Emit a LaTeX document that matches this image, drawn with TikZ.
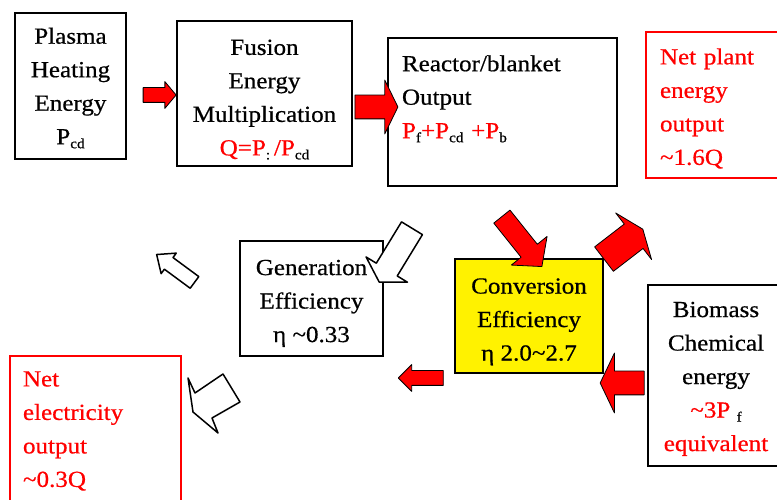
\documentclass[tikz,border=0pt]{standalone}
\usepackage{fontspec}
\setmainfont{Liberation Serif}[FakeStretch=1.09, FakeBold=0.6]
\usetikzlibrary{shapes.arrows}
\newcommand{\lowsub}[1]{\raisebox{-4pt}[0pt][0pt]{\fontsize{14}{14}\selectfont\color{black}#1}}
\newcommand{\raiseline}[1]{\rule{0pt}{#1}}
\tikzset{
    box/.style={draw=black, line width=2.5pt, fill=white, align=center, inner sep=0pt},
    netbox/.style={draw=red, line width=2.5pt, fill=white, align=left, text=red, inner sep=0pt},
    redarrow/.style={single arrow, draw=black, fill=red, line width=0.8pt, inner xsep=0pt, line join=round},
    whitearrow/.style={single arrow, draw=black, fill=white, line width=1.5pt, inner xsep=0pt, line join=round},
    hollow/.style={draw=black, fill=white, line width=1.5pt, line join=round}
}

\begin{document}
\begin{tikzpicture}[x=1pt, y=1pt, font=\fontsize{23}{33.5}\selectfont]
        \useasboundingbox (0,0) rectangle (777,500);
        \clip (0,0) rectangle (777,500);
        % boxes of the top row
        \node [box, minimum width=111, minimum height=146] (plasma) at (70.5,414) {Plasma\\ Heating\\ Energy\\ P\lowsub{cd}};
        \node [box, minimum width=175, minimum height=145] (fusion) at (264.5,406.5) {\raiseline{27pt}Fusion\\ Energy\\ Multiplication\\ \textcolor{red}{Q=P\lowsub{:}\,/P}\lowsub{cd}};
        \node [box, align=left, minimum width=229, minimum height=148, text width=201] (reactor) at (502.5,388) {\raiseline{29pt}Reactor/blanket\\ Output\\ \textcolor{red}{P\lowsub{f}+P\lowsub{cd} +P\lowsub{b}}\\ \strut};
        \node [netbox, minimum width=154, minimum height=146, text width=126] (netplant) at (723,395) {\raiseline{23pt}Net plant\\ energy\\ output\\ \textasciitilde1.6Q};
        % boxes of the lower rows
        \node [box, minimum width=143, minimum height=115] (generation) at (311.5,201.5) {\raiseline{25pt}Generation\\ Efficiency\\ η \textasciitilde0.33};
        \node [box, fill=yellow, minimum width=148, minimum height=114] (conversion) at (529,184) {\raiseline{27pt}Conversion\\ Efficiency\\ η 2.0\textasciitilde2.7};
        \node [box, minimum width=136, minimum height=181] (biomass) at (716,124.5) {\raiseline{22pt}Biomass\\ Chemical\\ energy\\ \textcolor{red}{\textasciitilde3P \lowsub{f}}\\ \textcolor{red}{equivalent}};
        \node [netbox, minimum width=171, minimum height=150, text width=145] (netelec) at (95.5,69) {Net\\ electricity\\ output\\ \textasciitilde0.3Q};

        % block arrows
        \node [redarrow, minimum height=33, inner ysep=7, single arrow head extend=6, single arrow tip angle=100] (heatarrow) at (156.5,405) {};
        \node [redarrow, minimum height=43, inner ysep=11.5, single arrow head extend=15, single arrow tip angle=128] (fusionarrow) at (373.5,393) {};
        \node [redarrow, rotate=-51.3, minimum height=64, inner ysep=10, single arrow head extend=12.5, single arrow tip angle=97] (downarrow) at (519,262) {};
        \node [redarrow, rotate=37.6, minimum height=49, inner ysep=15, single arrow head extend=14, single arrow tip angle=137] (uparrow) at (621,254) {};
        \node [whitearrow, rotate=-121.4, minimum height=63, inner ysep=11.5, single arrow head extend=12, single arrow tip angle=118] (genarrow) at (397.5,248) {};
        \node [whitearrow, rotate=143.6, minimum height=47, inner ysep=6.5, single arrow head extend=5.5, single arrow tip angle=81] (backarrow) at (179,229) {};
        \node [redarrow, rotate=180, minimum height=45, inner ysep=7, single arrow head extend=6, single arrow tip angle=90] (leftarrow) at (424.5,122) {};
        \node [redarrow, rotate=180, minimum height=44, inner ysep=11.5, single arrow head extend=18, single arrow tip angle=129] (bioarrow) at (625,117) {};
        \draw [hollow] (188,122) -- (195,107) -- (223,126) -- (240,98) -- (212,82) -- (218,67) -- (193,88) -- cycle;
    \end{tikzpicture}
\end{document}
